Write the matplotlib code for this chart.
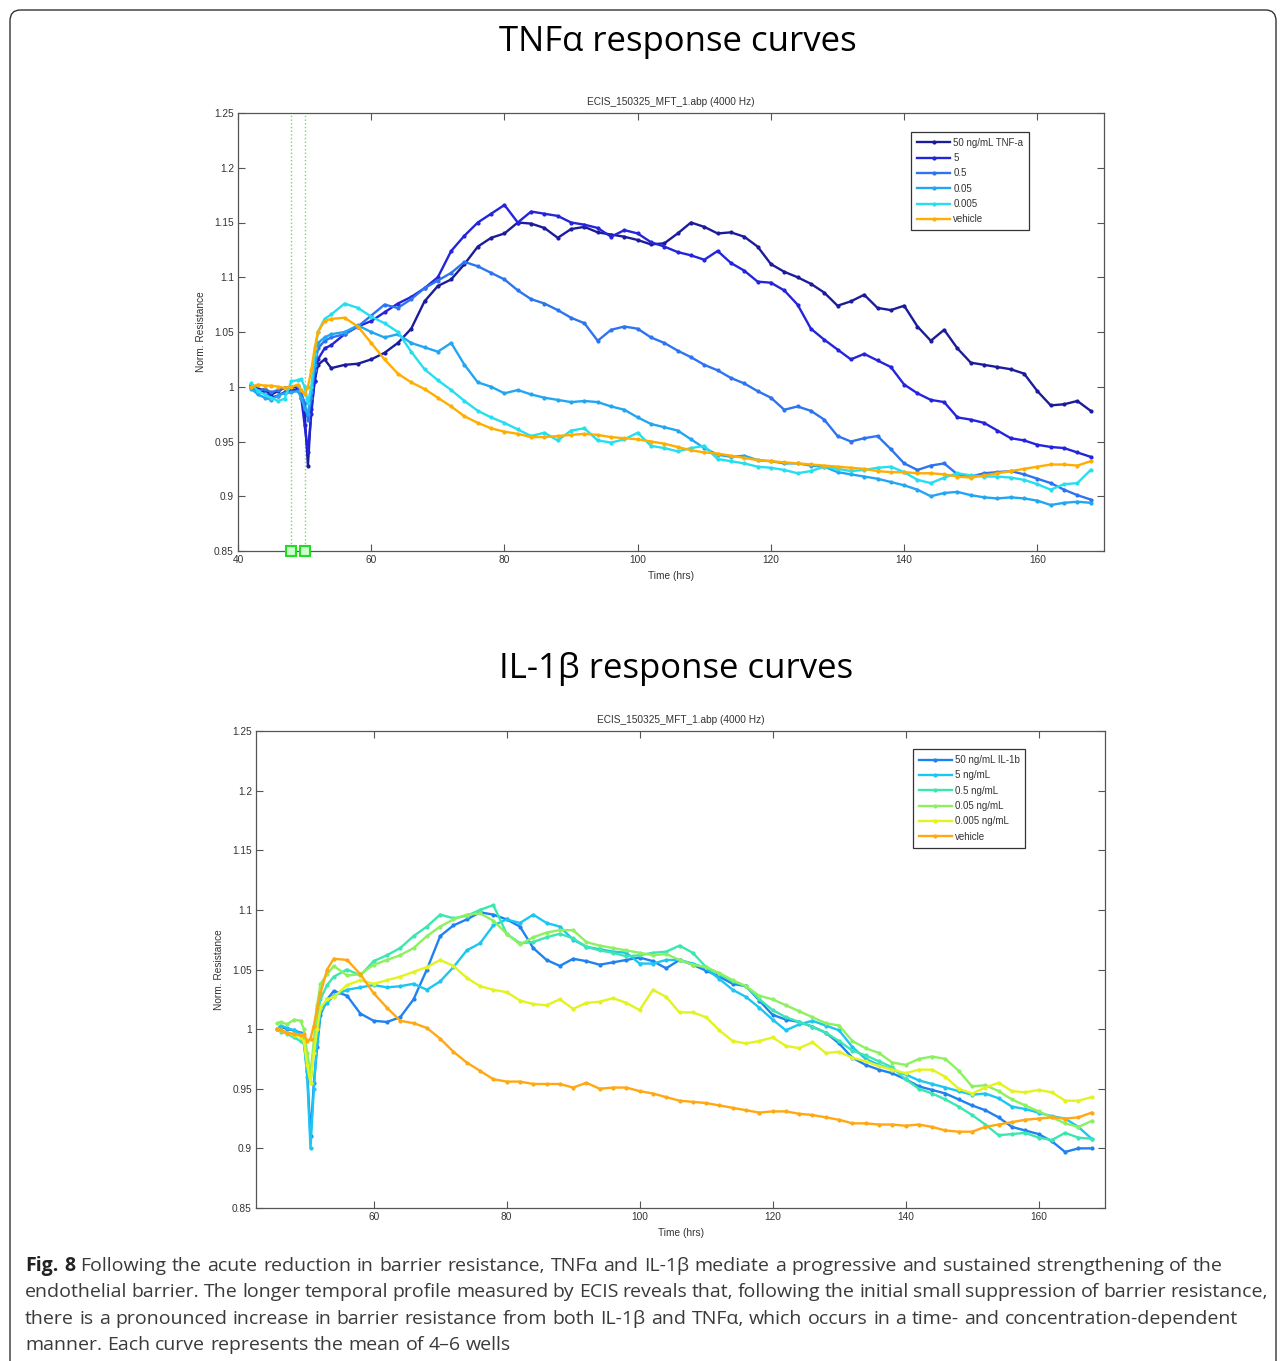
import numpy as np
import matplotlib
matplotlib.use("Agg")
import matplotlib.pyplot as plt
from matplotlib.patches import FancyBboxPatch

# ---------------- data ----------------
# sampling grids (hours): dense around the acute dip, every 2 h after
t_top = np.r_[42, 43, 44, 45, 46, 47, 48, 49, 49.5, 50, 50.5, 51, 51.5, 52, 53,
              np.arange(54, 169, 2)]
t_bot = np.r_[45.5, 46, 47, 48, 49, 49.5, 50, 50.5, 51, 51.5, 52, 53,
              np.arange(54, 169, 2)]

tnf_labels = ["50 ng/mL TNF-a", "5", "0.5", "0.05", "0.005", "vehicle"]
tnf_colors = ["#1c1c9a", "#2424dc", "#2d74f0", "#22a6f2", "#25def0", "#ffae00"]

tnf_50 = [1.002, 0.998, 0.997, 0.993, 0.996, 0.999, 0.999, 1.000, 0.995, 0.975, 0.928, 0.980, 1.005, 1.020, 1.025,
          1.017, 1.020, 1.021, 1.025, 1.031, 1.040, 1.053, 1.078, 1.092, 1.098,
          1.112, 1.128, 1.136, 1.140, 1.150, 1.149, 1.145, 1.136, 1.144, 1.146,
          1.141, 1.139, 1.137, 1.134, 1.130, 1.131, 1.140, 1.150, 1.146, 1.140,
          1.141, 1.137, 1.128, 1.112, 1.105, 1.100, 1.094, 1.086, 1.074, 1.078,
          1.084, 1.072, 1.070, 1.074, 1.055, 1.042, 1.052, 1.035, 1.022, 1.020,
          1.018, 1.016, 1.012, 0.996, 0.983, 0.984, 0.987, 0.978]
tnf_5 = [1.000, 0.997, 0.995, 0.990, 0.992, 0.995, 0.996, 0.998, 0.990, 0.965, 0.940, 0.975, 1.005, 1.025, 1.035,
         1.038, 1.048, 1.055, 1.060, 1.068, 1.076, 1.082, 1.090, 1.100, 1.124,
         1.138, 1.150, 1.158, 1.166, 1.150, 1.160, 1.158, 1.156, 1.150, 1.148,
         1.145, 1.137, 1.143, 1.140, 1.132, 1.128, 1.123, 1.120, 1.116, 1.124,
         1.113, 1.106, 1.096, 1.095, 1.088, 1.075, 1.053, 1.043, 1.034, 1.025,
         1.030, 1.024, 1.018, 1.002, 0.994, 0.988, 0.986, 0.972, 0.970, 0.967,
         0.960, 0.953, 0.951, 0.947, 0.945, 0.944, 0.940, 0.936]
tnf_05 = [1.000, 0.996, 0.998, 0.995, 0.997, 0.999, 1.000, 1.001, 0.995, 0.985, 0.970, 0.990, 1.015, 1.035, 1.042,
          1.045, 1.048, 1.055, 1.065, 1.075, 1.072, 1.080, 1.090, 1.097, 1.104,
          1.114, 1.110, 1.104, 1.098, 1.088, 1.080, 1.076, 1.070, 1.063, 1.058,
          1.042, 1.052, 1.055, 1.053, 1.045, 1.040, 1.033, 1.027, 1.020, 1.015,
          1.008, 1.003, 0.996, 0.990, 0.979, 0.982, 0.978, 0.970, 0.955, 0.950,
          0.953, 0.955, 0.943, 0.930, 0.924, 0.928, 0.930, 0.920, 0.918, 0.921,
          0.922, 0.923, 0.920, 0.916, 0.912, 0.906, 0.901, 0.897]
tnf_005 = [0.998, 0.993, 0.990, 0.988, 0.992, 0.994, 0.995, 0.996, 0.990, 0.980, 0.975, 0.995, 1.020, 1.040, 1.045,
           1.048, 1.050, 1.056, 1.050, 1.045, 1.048, 1.040, 1.036, 1.032, 1.040,
           1.020, 1.004, 1.000, 0.994, 0.997, 0.993, 0.990, 0.988, 0.986, 0.987,
           0.986, 0.982, 0.979, 0.972, 0.966, 0.963, 0.960, 0.952, 0.944, 0.938,
           0.936, 0.937, 0.933, 0.932, 0.930, 0.930, 0.928, 0.927, 0.922, 0.920,
           0.918, 0.916, 0.913, 0.910, 0.906, 0.900, 0.903, 0.904, 0.901, 0.899,
           0.898, 0.899, 0.898, 0.896, 0.892, 0.894, 0.895, 0.894]
tnf_0005 = [1.003, 0.996, 0.993, 0.990, 0.987, 0.989, 1.005, 1.006, 1.007, 1.000, 0.985, 1.000, 1.030, 1.050, 1.062,
            1.066, 1.076, 1.072, 1.064, 1.058, 1.050, 1.032, 1.016, 1.006, 0.997,
            0.987, 0.978, 0.972, 0.967, 0.961, 0.955, 0.958, 0.951, 0.960, 0.962,
            0.951, 0.949, 0.952, 0.958, 0.946, 0.944, 0.941, 0.944, 0.946, 0.934,
            0.932, 0.930, 0.927, 0.926, 0.924, 0.921, 0.923, 0.927, 0.925, 0.923,
            0.924, 0.926, 0.927, 0.922, 0.915, 0.912, 0.917, 0.921, 0.919, 0.918,
            0.918, 0.917, 0.915, 0.911, 0.906, 0.911, 0.912, 0.924]
tnf_vehicle = [1.000, 1.002, 1.001, 1.001, 1.000, 0.999, 1.000, 1.002, 0.997, 0.993, 1.000, 1.015, 1.035, 1.050, 1.060,
               1.062, 1.063, 1.055, 1.040, 1.025, 1.012, 1.004, 0.998, 0.990, 0.982,
               0.973, 0.967, 0.962, 0.959, 0.957, 0.954, 0.954, 0.955, 0.956, 0.957,
               0.956, 0.954, 0.953, 0.952, 0.950, 0.948, 0.945, 0.942, 0.940, 0.939,
               0.937, 0.935, 0.933, 0.932, 0.931, 0.930, 0.929, 0.928, 0.927, 0.926,
               0.925, 0.923, 0.922, 0.922, 0.921, 0.921, 0.920, 0.918, 0.917, 0.919,
               0.921, 0.923, 0.925, 0.927, 0.929, 0.929, 0.928, 0.932]

il_labels = ["50 ng/mL IL-1b", "5 ng/mL", "0.5 ng/mL", "0.05 ng/mL", "0.005 ng/mL", "vehicle"]
il_colors = ["#1f82f0", "#1cc6f2", "#3ce6b0", "#8cf060", "#e2f320", "#ffa812"]

il_50 = [1.000, 1.002, 1.000, 0.999, 0.997, 0.990, 0.965, 0.910, 0.955, 0.985, 1.012, 1.025,
         1.032, 1.028, 1.013, 1.007, 1.006, 1.010, 1.025, 1.050, 1.078, 1.087,
         1.092, 1.098, 1.096, 1.092, 1.086, 1.068, 1.058, 1.053, 1.059, 1.057,
         1.054, 1.056, 1.058, 1.060, 1.057, 1.051, 1.058, 1.054, 1.049, 1.044,
         1.038, 1.036, 1.024, 1.012, 1.008, 1.006, 1.002, 0.997, 0.988, 0.976,
         0.970, 0.966, 0.963, 0.958, 0.952, 0.949, 0.946, 0.941, 0.936, 0.932,
         0.926, 0.918, 0.915, 0.912, 0.906, 0.897, 0.900, 0.900]
il_5 = [1.000, 1.003, 1.001, 0.999, 0.996, 0.990, 0.960, 0.900, 0.950, 0.990, 1.015, 1.022,
        1.028, 1.033, 1.035, 1.037, 1.035, 1.036, 1.038, 1.033, 1.040, 1.052,
        1.066, 1.072, 1.087, 1.092, 1.089, 1.096, 1.089, 1.086, 1.075, 1.069,
        1.067, 1.065, 1.064, 1.055, 1.055, 1.058, 1.058, 1.055, 1.051, 1.042,
        1.033, 1.027, 1.018, 1.008, 0.999, 1.004, 1.007, 1.003, 0.999, 0.985,
        0.975, 0.970, 0.966, 0.962, 0.957, 0.954, 0.951, 0.948, 0.945, 0.946,
        0.942, 0.935, 0.933, 0.930, 0.927, 0.925, 0.918, 0.908]
il_05 = [1.000, 0.998, 0.996, 0.993, 0.990, 0.988, 0.970, 0.955, 0.985, 1.010, 1.025, 1.037,
         1.044, 1.050, 1.045, 1.057, 1.062, 1.068, 1.078, 1.086, 1.096, 1.093,
         1.095, 1.100, 1.104, 1.080, 1.072, 1.073, 1.077, 1.080, 1.076, 1.069,
         1.066, 1.064, 1.061, 1.062, 1.064, 1.065, 1.070, 1.064, 1.052, 1.046,
         1.040, 1.036, 1.025, 1.016, 1.010, 1.006, 1.002, 0.997, 0.990, 0.982,
         0.978, 0.973, 0.968, 0.958, 0.950, 0.946, 0.941, 0.935, 0.928, 0.920,
         0.911, 0.912, 0.913, 0.909, 0.907, 0.913, 0.909, 0.908]
il_005 = [1.005, 1.006, 1.004, 1.008, 1.007, 1.000, 0.980, 0.963, 0.990, 1.020, 1.038, 1.046,
          1.053, 1.045, 1.046, 1.054, 1.058, 1.062, 1.068, 1.078, 1.086, 1.092,
          1.096, 1.097, 1.091, 1.080, 1.071, 1.077, 1.081, 1.083, 1.083, 1.073,
          1.070, 1.068, 1.066, 1.064, 1.062, 1.063, 1.058, 1.054, 1.052, 1.047,
          1.041, 1.036, 1.028, 1.025, 1.020, 1.015, 1.010, 1.005, 1.003, 0.990,
          0.984, 0.980, 0.972, 0.970, 0.975, 0.977, 0.975, 0.965, 0.952, 0.953,
          0.948, 0.941, 0.936, 0.931, 0.926, 0.921, 0.918, 0.923]
il_0005 = [1.000, 0.999, 0.997, 0.995, 0.993, 0.990, 0.970, 0.955, 0.980, 1.000, 1.018, 1.025,
           1.027, 1.037, 1.041, 1.038, 1.041, 1.044, 1.048, 1.052, 1.058, 1.053,
           1.043, 1.036, 1.033, 1.031, 1.024, 1.021, 1.020, 1.025, 1.017, 1.022,
           1.023, 1.026, 1.022, 1.016, 1.033, 1.027, 1.014, 1.014, 1.010, 0.999,
           0.990, 0.988, 0.990, 0.993, 0.986, 0.984, 0.989, 0.980, 0.981, 0.976,
           0.973, 0.969, 0.966, 0.963, 0.966, 0.966, 0.960, 0.950, 0.946, 0.951,
           0.955, 0.948, 0.947, 0.949, 0.947, 0.940, 0.940, 0.943]
il_vehicle = [1.000, 0.999, 0.997, 0.996, 0.995, 0.996, 0.990, 0.992, 1.003, 1.018, 1.030, 1.050,
              1.059, 1.058, 1.046, 1.030, 1.018, 1.007, 1.005, 1.001, 0.992, 0.981,
              0.972, 0.965, 0.958, 0.956, 0.956, 0.954, 0.954, 0.954, 0.951, 0.955,
              0.950, 0.951, 0.951, 0.948, 0.946, 0.943, 0.940, 0.939, 0.938, 0.936,
              0.934, 0.932, 0.930, 0.931, 0.931, 0.929, 0.928, 0.926, 0.924, 0.921,
              0.921, 0.920, 0.920, 0.919, 0.920, 0.918, 0.915, 0.914, 0.914, 0.918,
              0.920, 0.922, 0.924, 0.925, 0.926, 0.925, 0.926, 0.930]

stim_times = [48, 50]

y_ticks = [0.85, 0.9, 0.95, 1.0, 1.05, 1.1, 1.15, 1.2, 1.25]
y_ticklabels = ["0.85", "0.9", "0.95", "1", "1.05", "1.1", "1.15", "1.2", "1.25"]
x_ticks_top = [40, 60, 80, 100, 120, 140, 160]
x_ticks_bot = [60, 80, 100, 120, 140, 160]

caption_lines = [
    "Fig. 8 Following the acute reduction in barrier resistance, TNF\u03b1 and IL-1\u03b2 mediate a progressive and sustained strengthening of the",
    "endothelial barrier. The longer temporal profile measured by ECIS reveals that, following the initial small suppression of barrier resistance,",
    "there is a pronounced increase in barrier resistance from both IL-1\u03b2 and TNF\u03b1, which occurs in a time- and concentration-dependent",
    "manner. Each curve represents the mean of 4\u20136 wells",
]
caption_right = [1223, 1268, 1238, None]   # px where justified lines end
caption_base = [1271, 1297, 1324, 1350]    # px baselines

# ---------------- figure ----------------
W, H = 1282, 1361
fig = plt.figure(figsize=(W / 100, H / 100), dpi=100)
fig.patch.set_facecolor("white")

fig.patches.append(FancyBboxPatch((10 / W, -0.02), 1266 / W, 1 - 10 / H + 0.02,
                                  boxstyle="round,pad=0,rounding_size=0.008",
                                  transform=fig.transFigure, fill=False,
                                  edgecolor="#333333", linewidth=1.0))

title_font = ["Open Sans", "DejaVu Sans"]
fig.text(678 / W, 1 - 42 / H, "TNF\u03b1 response curves", ha="center", va="center",
         fontsize=25, family=title_font, color="#000000")
fig.text(676 / W, 1 - 669 / H, "IL-1\u03b2 response curves", ha="center", va="center",
         fontsize=25, family=title_font, color="#000000")

small = dict(fontsize=7.3, family=["Liberation Sans", "DejaVu Sans"], color="#333333")


def style_axes(ax, xlim, xticks):
    ax.set_xlim(*xlim)
    ax.set_ylim(0.85, 1.25)
    ax.set_yticks(y_ticks)
    ax.set_yticklabels(y_ticklabels, **small)
    ax.set_xticks(xticks)
    ax.set_xticklabels([str(v) for v in xticks], **small)
    ax.tick_params(direction="in", length=5, width=0.8, color="#555555",
                   top=True, right=True, pad=3)
    for s in ax.spines.values():
        s.set_color("#555555")
        s.set_linewidth(0.9)
    ax.set_title("ECIS_150325_MFT_1.abp (4000 Hz)", pad=6, **small)
    ax.set_xlabel("Time (hrs)", labelpad=4, **small)
    ax.set_ylabel("Norm. Resistance", labelpad=6, **small)


def draw_series(ax, t, series, colors, labels):
    for y, c, lab in zip(series, colors, labels):
        ax.plot(t, y, "-", marker=".", color=c, lw=1.7, ms=4, label=lab)
    leg = ax.legend(loc="upper left", fontsize=7, numpoints=1, handlelength=3.4,
                    labelspacing=0.55, borderpad=0.6, handletextpad=0.3,
                    fancybox=False, framealpha=1, edgecolor="#333333",
                    prop={"family": ["Liberation Sans", "DejaVu Sans"], "size": 7})
    leg.get_frame().set_linewidth(0.9)
    for txt in leg.get_texts():
        txt.set_color("#333333")
    return leg


# top panel: TNFa
ax1 = fig.add_axes([238 / W, 1 - 551 / H, 866 / W, 438 / H])
for ts in stim_times:
    ax1.axvline(ts, color="#66e066", ls=":", lw=1.0, zorder=1)
ax1.plot(stim_times, [0.85] * len(stim_times), "s", ms=7, mfc="#ccffcc",
         mec="#22dd22", mew=1.5, clip_on=False, zorder=5)
draw_series(ax1, t_top, [tnf_50, tnf_5, tnf_05, tnf_005, tnf_0005, tnf_vehicle],
            tnf_colors, tnf_labels)
ax1.get_legend().set_bbox_to_anchor((0.772, 0.968))
style_axes(ax1, (40, 170), x_ticks_top)

# bottom panel: IL-1b
ax2 = fig.add_axes([256 / W, 1 - 1208 / H, 849 / W, 477 / H])
draw_series(ax2, t_bot, [il_50, il_5, il_05, il_005, il_0005, il_vehicle],
            il_colors, il_labels)
ax2.get_legend().set_bbox_to_anchor((0.768, 0.972))
style_axes(ax2, (42.3, 170), x_ticks_bot)

# caption, justified word by word
fig.canvas.draw()
renderer = fig.canvas.get_renderer()
cap_font = ["Open Sans", "DejaVu Sans"]
cap_size = 14
left_px = 25
for i, line in enumerate(caption_lines):
    words = line.split(" ")
    y = 1 - caption_base[i] / H
    texts = []
    for j, w in enumerate(words):
        bold = (i == 0 and j < 2)
        texts.append(fig.text(0, y, w, fontsize=cap_size, family=cap_font,
                              fontweight="bold" if bold else "normal",
                              color="#222222" if bold else "#3a3a3a", va="baseline"))
    widths = [t.get_window_extent(renderer).width for t in texts]
    if caption_right[i] is None:
        gap = cap_size * 100 / 72 * 0.26
    else:
        gap = (caption_right[i] - left_px - sum(widths)) / (len(words) - 1)
    x = left_px
    for t, wd in zip(texts, widths):
        t.set_x(x / W)
        x += wd + gap

fig.savefig("out.png", dpi=100)
